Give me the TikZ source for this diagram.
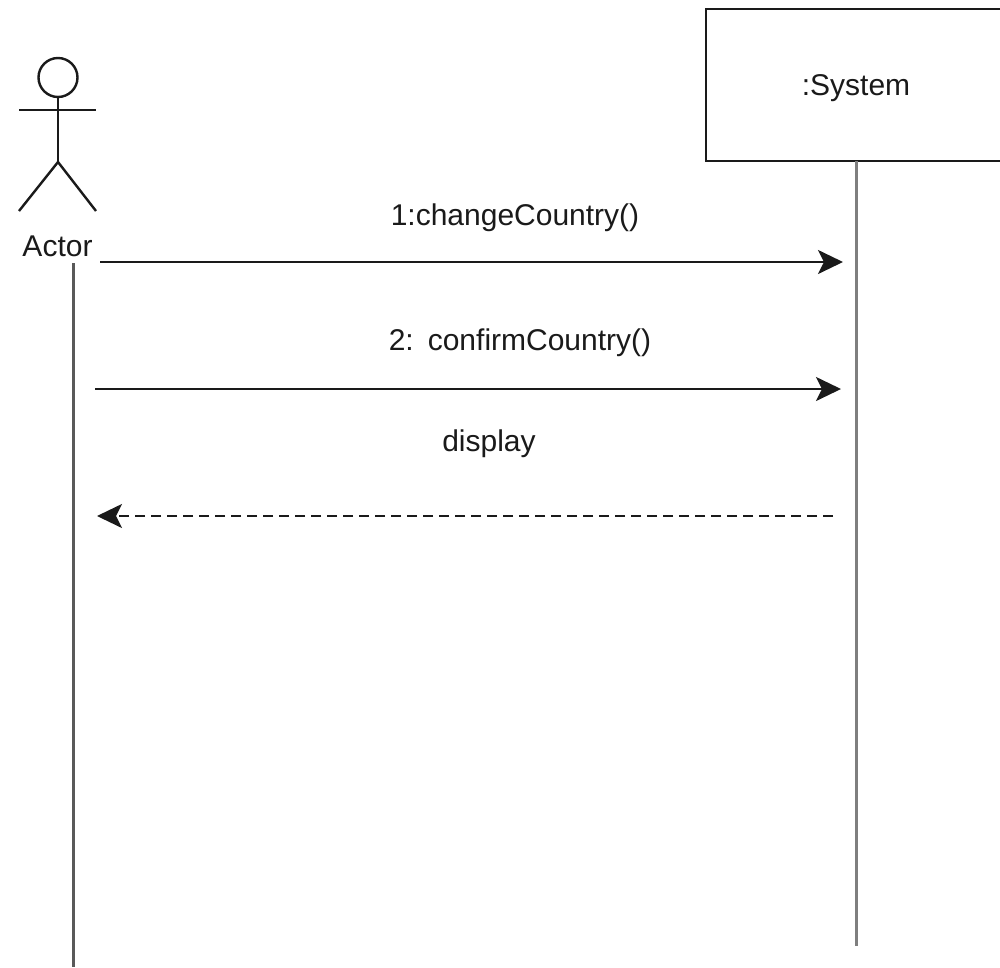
\documentclass[tikz,border=0pt]{standalone}
\usepackage{fontspec}
\setmainfont{Liberation Sans}
\usetikzlibrary{arrows.meta}
\definecolor{ink}{HTML}{1A1A1A}
\definecolor{lifegray}{HTML}{7F7F7F}
\begin{document}
\begin{tikzpicture}[x=1pt,y=-1pt,
  figure/.style={draw=ink,line width=2.4pt},
  msg/.style={draw=ink,line width=2.4pt,-{Stealth[length=25pt,width=24pt,inset=6pt]}},
  retmsg/.style={msg,dash pattern=on 10pt off 6pt},
  lifeline/.style={draw=lifegray,line width=3pt},
  lifelinedark/.style={draw=black!65,line width=3pt},
  label/.style={inner sep=0pt,text=ink,font=\fontsize{30}{33}\selectfont},
  sysbox/.style={draw=ink,line width=2.4pt,fill=white,minimum width=298pt,minimum height=152pt,inner sep=0pt,anchor=north west}]
\useasboundingbox (0,0) rectangle (1000,967);
\fill[white] (0,0) rectangle (1000,967);
% actor
\node[figure,circle,minimum size=39pt,inner sep=0pt] (head) at (58,77.5) {};
\coordinate (armL) at (19,110);
\coordinate (armR) at (96,110);
\coordinate (hip) at (58,162);
\coordinate (footL) at (19,211);
\coordinate (footR) at (96,211);
\draw[figure] (head.south) -- (hip);
\draw[figure] (armL) -- (armR);
\draw[figure] (footL) -- (hip) -- (footR);
\node[label] (actor) at (57.5,246.5) {Actor};
% system
\node[sysbox] (system) at (705,8) {};
\node[label] (systemlabel) at (856,88) {:System};
% lifelines
\coordinate (actorTop) at (73,263);
\coordinate (actorEnd) at (73,967);
\coordinate (sysEnd) at (856.5,946);
\coordinate (sysTop) at (856.5,161);
\draw[lifelinedark] (actorTop) -- (actorEnd);
\draw[lifeline] (sysTop) -- (sysEnd);
% messages
\coordinate (m1a) at (100,262);
\coordinate (m1b) at (843,262);
\coordinate (m2a) at (95,389);
\coordinate (m2b) at (841,389);
\coordinate (m3a) at (833,516);
\coordinate (m3b) at (97,516);
\draw[msg] (m1a) -- (m1b);
\draw[msg] (m2a) -- (m2b);
\draw[retmsg] (m3a) -- (m3b);
\node[label] (l1) at (515,218) {1:changeCountry()};
\node[label] (l2) at (520,343) {2:\hspace{14pt}confirmCountry()};
\node[label] (l3) at (489,444) {display};
\end{tikzpicture}
\end{document}
